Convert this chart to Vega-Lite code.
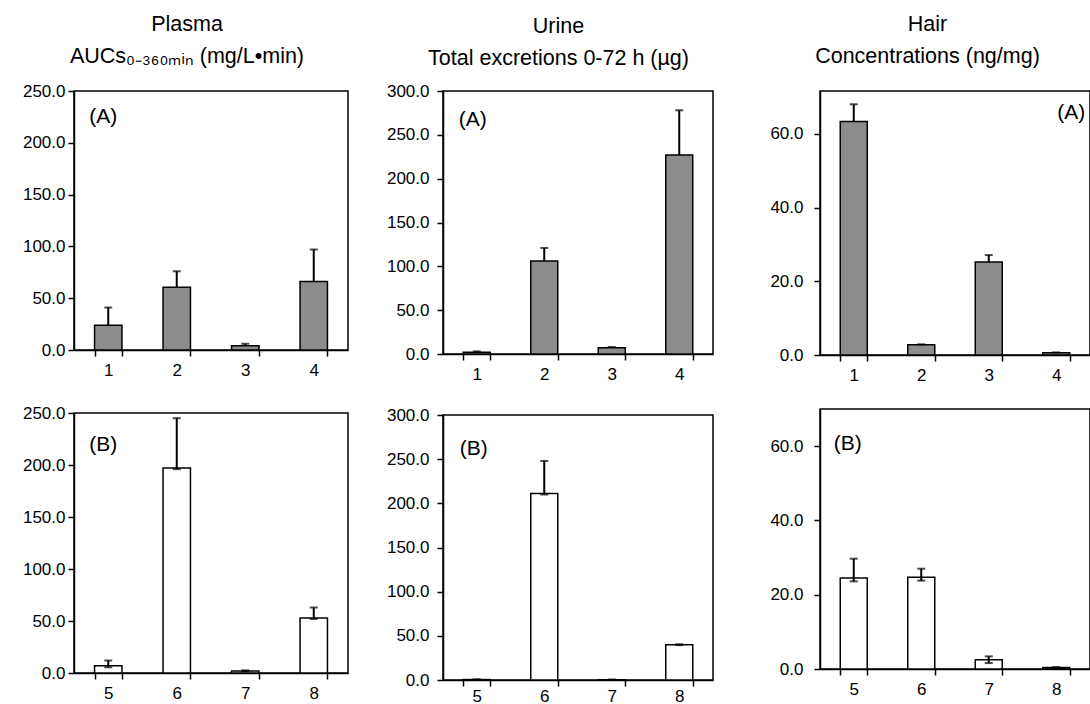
{
  "$schema": "https://vega.github.io/schema/vega-lite/v6.json",
  "background": "white",
  "padding": {"left": 17, "top": 13, "right": 0, "bottom": 0},
  "datasets": {
    "bars": [
      {"tissue": "Plasma", "grp": "A", "cat": "1", "value": 24, "lo": 24, "hi": 41},
      {"tissue": "Plasma", "grp": "A", "cat": "2", "value": 60.5, "lo": 60.5, "hi": 76},
      {"tissue": "Plasma", "grp": "A", "cat": "3", "value": 4, "lo": 4, "hi": 6},
      {"tissue": "Plasma", "grp": "A", "cat": "4", "value": 66, "lo": 66, "hi": 97},
      {"tissue": "Plasma", "grp": "B", "cat": "5", "value": 7, "lo": 5.5, "hi": 12},
      {"tissue": "Plasma", "grp": "B", "cat": "6", "value": 197, "lo": 196, "hi": 245},
      {"tissue": "Plasma", "grp": "B", "cat": "7", "value": 2, "lo": 1.5, "hi": 2.5},
      {"tissue": "Plasma", "grp": "B", "cat": "8", "value": 53, "lo": 52, "hi": 63},
      {"tissue": "Urine", "grp": "A", "cat": "1", "value": 2, "lo": 2, "hi": 3},
      {"tissue": "Urine", "grp": "A", "cat": "2", "value": 106, "lo": 106, "hi": 121},
      {"tissue": "Urine", "grp": "A", "cat": "3", "value": 7, "lo": 7, "hi": 8},
      {"tissue": "Urine", "grp": "A", "cat": "4", "value": 227, "lo": 227, "hi": 278},
      {"tissue": "Urine", "grp": "B", "cat": "5", "value": 0.5, "lo": 0.4, "hi": 0.6},
      {"tissue": "Urine", "grp": "B", "cat": "6", "value": 211, "lo": 210, "hi": 248},
      {"tissue": "Urine", "grp": "B", "cat": "7", "value": 0.3, "lo": 0.2, "hi": 0.4},
      {"tissue": "Urine", "grp": "B", "cat": "8", "value": 40, "lo": 39.5, "hi": 40.5},
      {"tissue": "Hair", "grp": "A", "cat": "1", "value": 63.3, "lo": 63.3, "hi": 68},
      {"tissue": "Hair", "grp": "A", "cat": "2", "value": 2.8, "lo": 2.8, "hi": 2.9},
      {"tissue": "Hair", "grp": "A", "cat": "3", "value": 25.2, "lo": 25.2, "hi": 27.1},
      {"tissue": "Hair", "grp": "A", "cat": "4", "value": 0.6, "lo": 0.6, "hi": 0.7},
      {"tissue": "Hair", "grp": "B", "cat": "5", "value": 24.5, "lo": 23.6, "hi": 29.7},
      {"tissue": "Hair", "grp": "B", "cat": "6", "value": 24.7, "lo": 23.8, "hi": 27},
      {"tissue": "Hair", "grp": "B", "cat": "7", "value": 2.5, "lo": 1.6, "hi": 3.4},
      {"tissue": "Hair", "grp": "B", "cat": "8", "value": 0.4, "lo": 0.3, "hi": 0.5}
    ],
    "labels": [
      {"tissue": "Plasma", "grp": "A", "cat": "1", "y": 225, "label": "(A)"},
      {"tissue": "Plasma", "grp": "B", "cat": "5", "y": 219, "label": "(B)"},
      {"tissue": "Urine", "grp": "A", "cat": "1", "y": 267, "label": "(A)"},
      {"tissue": "Urine", "grp": "B", "cat": "5", "y": 262, "label": "(B)"},
      {"tissue": "Hair", "grp": "A", "cat": "4", "y": 65.6, "label": "(A)"},
      {"tissue": "Hair", "grp": "B", "cat": "5", "y": 60.7, "label": "(B)"}
    ]
  },
  "hconcat": [
    {
      "title": {"text": ["Plasma", "AUCs₀₋₃₆₀ₘᵢₙ (mg/L•min)"], "anchor": "middle", "frame": "bounds", "offset": 14, "dx": 4},
      "spacing": 24,
      "vconcat": [
        {
          "width": 274, "height": 259,
          "encoding": {"x": {"field": "cat", "type": "ordinal", "scale": {"paddingInner": 0.6, "paddingOuter": 0.3}, "axis": {"title": null, "tickBand": "extent"}}},
          "layer": [
            {
              "data": {"name": "bars"},
              "transform": [{"filter": "datum.tissue === 'Plasma' && datum.grp === 'A'"}],
              "layer": [
                {"mark": {"type": "bar", "fill": "#8c8c8c", "stroke": "black", "strokeWidth": 1.5}, "encoding": {"y": {"field": "value", "type": "quantitative", "scale": {"domain": [0, 250], "nice": false}, "axis": {"title": null, "values": [0, 50, 100, 150, 200, 250], "format": ".1f", "minExtent": 56, "labelPadding": 3}}}},
                {"mark": {"type": "rule", "color": "black", "strokeWidth": 2}, "encoding": {"y": {"field": "lo", "type": "quantitative", "axis": {"title": null, "values": [0, 50, 100, 150, 200, 250], "format": ".1f", "minExtent": 56, "labelPadding": 3}}, "y2": {"field": "hi"}}},
                {"mark": {"type": "tick", "orient": "horizontal", "color": "black", "size": 8, "thickness": 2}, "encoding": {"y": {"field": "hi", "type": "quantitative", "axis": {"title": null, "values": [0, 50, 100, 150, 200, 250], "format": ".1f", "minExtent": 56, "labelPadding": 3}}}}
              ]
            },
            {
              "data": {"name": "labels"},
              "transform": [{"filter": "datum.tissue === 'Plasma' && datum.grp === 'A'"}],
              "mark": {"type": "text", "fontSize": 21, "color": "black", "dx": -5},
              "encoding": {"y": {"field": "y", "type": "quantitative", "axis": {"title": null, "values": [0, 50, 100, 150, 200, 250], "format": ".1f", "minExtent": 56, "labelPadding": 3}}, "text": {"field": "label"}}
            }
          ]
        },
        {
          "width": 274, "height": 260,
          "encoding": {"x": {"field": "cat", "type": "ordinal", "scale": {"paddingInner": 0.6, "paddingOuter": 0.3}, "axis": {"title": null, "tickBand": "extent"}}},
          "layer": [
            {
              "data": {"name": "bars"},
              "transform": [{"filter": "datum.tissue === 'Plasma' && datum.grp === 'B'"}],
              "layer": [
                {"mark": {"type": "bar", "fill": "white", "stroke": "black", "strokeWidth": 1.5}, "encoding": {"y": {"field": "value", "type": "quantitative", "scale": {"domain": [0, 250], "nice": false}, "axis": {"title": null, "values": [0, 50, 100, 150, 200, 250], "format": ".1f", "minExtent": 56, "labelPadding": 3}}}},
                {"mark": {"type": "rule", "color": "black", "strokeWidth": 2}, "encoding": {"y": {"field": "lo", "type": "quantitative", "axis": {"title": null, "values": [0, 50, 100, 150, 200, 250], "format": ".1f", "minExtent": 56, "labelPadding": 3}}, "y2": {"field": "hi"}}},
                {"mark": {"type": "tick", "orient": "horizontal", "color": "black", "size": 8, "thickness": 2}, "encoding": {"y": {"field": "hi", "type": "quantitative", "axis": {"title": null, "values": [0, 50, 100, 150, 200, 250], "format": ".1f", "minExtent": 56, "labelPadding": 3}}}},
                {"mark": {"type": "tick", "orient": "horizontal", "color": "black", "size": 8, "thickness": 2}, "encoding": {"y": {"field": "lo", "type": "quantitative", "axis": {"title": null, "values": [0, 50, 100, 150, 200, 250], "format": ".1f", "minExtent": 56, "labelPadding": 3}}}}
              ]
            },
            {
              "data": {"name": "labels"},
              "transform": [{"filter": "datum.tissue === 'Plasma' && datum.grp === 'B'"}],
              "mark": {"type": "text", "fontSize": 21, "color": "black", "dx": -5},
              "encoding": {"y": {"field": "y", "type": "quantitative", "axis": {"title": null, "values": [0, 50, 100, 150, 200, 250], "format": ".1f", "minExtent": 56, "labelPadding": 3}}, "text": {"field": "label"}}
            }
          ]
        }
      ]
    },
    {
      "title": {"text": ["Urine", "Total excretions 0-72 h (µg)"], "anchor": "middle", "frame": "bounds", "offset": 12, "dx": 9},
      "spacing": 22,
      "vconcat": [
        {
          "width": 270, "height": 263,
          "encoding": {"x": {"field": "cat", "type": "ordinal", "scale": {"paddingInner": 0.6, "paddingOuter": 0.3}, "axis": {"title": null, "tickBand": "extent"}}},
          "layer": [
            {
              "data": {"name": "bars"},
              "transform": [{"filter": "datum.tissue === 'Urine' && datum.grp === 'A'"}],
              "layer": [
                {"mark": {"type": "bar", "fill": "#8c8c8c", "stroke": "black", "strokeWidth": 1.5}, "encoding": {"y": {"field": "value", "type": "quantitative", "scale": {"domain": [0, 300], "nice": false}, "axis": {"title": null, "values": [0, 50, 100, 150, 200, 250, 300], "format": ".1f", "minExtent": 57, "labelPadding": 8}}}},
                {"mark": {"type": "rule", "color": "black", "strokeWidth": 2}, "encoding": {"y": {"field": "lo", "type": "quantitative", "axis": {"title": null, "values": [0, 50, 100, 150, 200, 250, 300], "format": ".1f", "minExtent": 57, "labelPadding": 8}}, "y2": {"field": "hi"}}},
                {"mark": {"type": "tick", "orient": "horizontal", "color": "black", "size": 8, "thickness": 2}, "encoding": {"y": {"field": "hi", "type": "quantitative", "axis": {"title": null, "values": [0, 50, 100, 150, 200, 250, 300], "format": ".1f", "minExtent": 57, "labelPadding": 8}}}}
              ]
            },
            {
              "data": {"name": "labels"},
              "transform": [{"filter": "datum.tissue === 'Urine' && datum.grp === 'A'"}],
              "mark": {"type": "text", "fontSize": 21, "color": "black", "dx": -4},
              "encoding": {"y": {"field": "y", "type": "quantitative", "axis": {"title": null, "values": [0, 50, 100, 150, 200, 250, 300], "format": ".1f", "minExtent": 57, "labelPadding": 8}}, "text": {"field": "label"}}
            }
          ]
        },
        {
          "width": 270, "height": 265,
          "encoding": {"x": {"field": "cat", "type": "ordinal", "scale": {"paddingInner": 0.6, "paddingOuter": 0.3}, "axis": {"title": null, "tickBand": "extent", "labelPadding": 2}}},
          "layer": [
            {
              "data": {"name": "bars"},
              "transform": [{"filter": "datum.tissue === 'Urine' && datum.grp === 'B'"}],
              "layer": [
                {"mark": {"type": "bar", "fill": "white", "stroke": "black", "strokeWidth": 1.5}, "encoding": {"y": {"field": "value", "type": "quantitative", "scale": {"domain": [0, 300], "nice": false}, "axis": {"title": null, "values": [0, 50, 100, 150, 200, 250, 300], "format": ".1f", "minExtent": 57, "labelPadding": 8}}}},
                {"mark": {"type": "rule", "color": "black", "strokeWidth": 2}, "encoding": {"y": {"field": "lo", "type": "quantitative", "axis": {"title": null, "values": [0, 50, 100, 150, 200, 250, 300], "format": ".1f", "minExtent": 57, "labelPadding": 8}}, "y2": {"field": "hi"}}},
                {"mark": {"type": "tick", "orient": "horizontal", "color": "black", "size": 8, "thickness": 2}, "encoding": {"y": {"field": "hi", "type": "quantitative", "axis": {"title": null, "values": [0, 50, 100, 150, 200, 250, 300], "format": ".1f", "minExtent": 57, "labelPadding": 8}}}},
                {"mark": {"type": "tick", "orient": "horizontal", "color": "black", "size": 8, "thickness": 2}, "encoding": {"y": {"field": "lo", "type": "quantitative", "axis": {"title": null, "values": [0, 50, 100, 150, 200, 250, 300], "format": ".1f", "minExtent": 57, "labelPadding": 8}}}}
              ]
            },
            {
              "data": {"name": "labels"},
              "transform": [{"filter": "datum.tissue === 'Urine' && datum.grp === 'B'"}],
              "mark": {"type": "text", "fontSize": 21, "color": "black", "dx": -3},
              "encoding": {"y": {"field": "y", "type": "quantitative", "axis": {"title": null, "values": [0, 50, 100, 150, 200, 250, 300], "format": ".1f", "minExtent": 57, "labelPadding": 8}}, "text": {"field": "label"}}
            }
          ]
        }
      ]
    },
    {
      "title": {"text": ["Hair", "Concentrations (ng/mg)"], "anchor": "middle", "frame": "bounds", "offset": 23, "dx": 7},
      "spacing": 24,
      "vconcat": [
        {
          "width": 270, "height": 264,
          "encoding": {"x": {"field": "cat", "type": "ordinal", "scale": {"paddingInner": 0.6, "paddingOuter": 0.3}, "axis": {"title": null, "tickBand": "extent"}}},
          "layer": [
            {
              "data": {"name": "bars"},
              "transform": [{"filter": "datum.tissue === 'Hair' && datum.grp === 'A'"}],
              "layer": [
                {"mark": {"type": "bar", "fill": "#8c8c8c", "stroke": "black", "strokeWidth": 1.5}, "encoding": {"y": {"field": "value", "type": "quantitative", "scale": {"domain": [0, 71.6], "nice": false}, "axis": {"title": null, "values": [0, 20, 40, 60], "format": ".1f", "minExtent": 69, "labelPadding": 11}}}},
                {"mark": {"type": "rule", "color": "black", "strokeWidth": 2}, "encoding": {"y": {"field": "lo", "type": "quantitative", "axis": {"title": null, "values": [0, 20, 40, 60], "format": ".1f", "minExtent": 69, "labelPadding": 11}}, "y2": {"field": "hi"}}},
                {"mark": {"type": "tick", "orient": "horizontal", "color": "black", "size": 8, "thickness": 2}, "encoding": {"y": {"field": "hi", "type": "quantitative", "axis": {"title": null, "values": [0, 20, 40, 60], "format": ".1f", "minExtent": 69, "labelPadding": 11}}}}
              ]
            },
            {
              "data": {"name": "labels"},
              "transform": [{"filter": "datum.tissue === 'Hair' && datum.grp === 'A'"}],
              "mark": {"type": "text", "fontSize": 21, "color": "black", "dx": 15},
              "encoding": {"y": {"field": "y", "type": "quantitative", "axis": {"title": null, "values": [0, 20, 40, 60], "format": ".1f", "minExtent": 69, "labelPadding": 11}}, "text": {"field": "label"}}
            }
          ]
        },
        {
          "width": 270, "height": 260,
          "encoding": {"x": {"field": "cat", "type": "ordinal", "scale": {"paddingInner": 0.6, "paddingOuter": 0.3}, "axis": {"title": null, "tickBand": "extent"}}},
          "layer": [
            {
              "data": {"name": "bars"},
              "transform": [{"filter": "datum.tissue === 'Hair' && datum.grp === 'B'"}],
              "layer": [
                {"mark": {"type": "bar", "fill": "white", "stroke": "black", "strokeWidth": 1.5}, "encoding": {"y": {"field": "value", "type": "quantitative", "scale": {"domain": [0, 70], "nice": false}, "axis": {"title": null, "values": [0, 20, 40, 60], "format": ".1f", "minExtent": 69, "labelPadding": 11}}}},
                {"mark": {"type": "rule", "color": "black", "strokeWidth": 2}, "encoding": {"y": {"field": "lo", "type": "quantitative", "axis": {"title": null, "values": [0, 20, 40, 60], "format": ".1f", "minExtent": 69, "labelPadding": 11}}, "y2": {"field": "hi"}}},
                {"mark": {"type": "tick", "orient": "horizontal", "color": "black", "size": 8, "thickness": 2}, "encoding": {"y": {"field": "hi", "type": "quantitative", "axis": {"title": null, "values": [0, 20, 40, 60], "format": ".1f", "minExtent": 69, "labelPadding": 11}}}},
                {"mark": {"type": "tick", "orient": "horizontal", "color": "black", "size": 8, "thickness": 2}, "encoding": {"y": {"field": "lo", "type": "quantitative", "axis": {"title": null, "values": [0, 20, 40, 60], "format": ".1f", "minExtent": 69, "labelPadding": 11}}}}
              ]
            },
            {
              "data": {"name": "labels"},
              "transform": [{"filter": "datum.tissue === 'Hair' && datum.grp === 'B'"}],
              "mark": {"type": "text", "fontSize": 21, "color": "black", "dx": -6},
              "encoding": {"y": {"field": "y", "type": "quantitative", "axis": {"title": null, "values": [0, 20, 40, 60], "format": ".1f", "minExtent": 69, "labelPadding": 11}}, "text": {"field": "label"}}
            }
          ]
        }
      ]
    }
  ],
  "spacing": 36,
  "config": {
    "font": "Liberation Sans",
    "view": {"stroke": "black", "strokeWidth": 1.5},
    "axis": {"domainColor": "black", "domainWidth": 1.5, "tickColor": "black", "tickWidth": 1.5, "labelColor": "black", "labelFontSize": 17, "labelFont": "Liberation Sans", "grid": false},
    "axisX": {"labelAngle": 0, "tickSize": 6, "labelPadding": 6},
    "axisY": {"tickSize": 6},
    "title": {"fontSize": 21.5, "fontWeight": "normal", "lineHeight": 32, "color": "black", "font": "Liberation Sans"}
  }
}
